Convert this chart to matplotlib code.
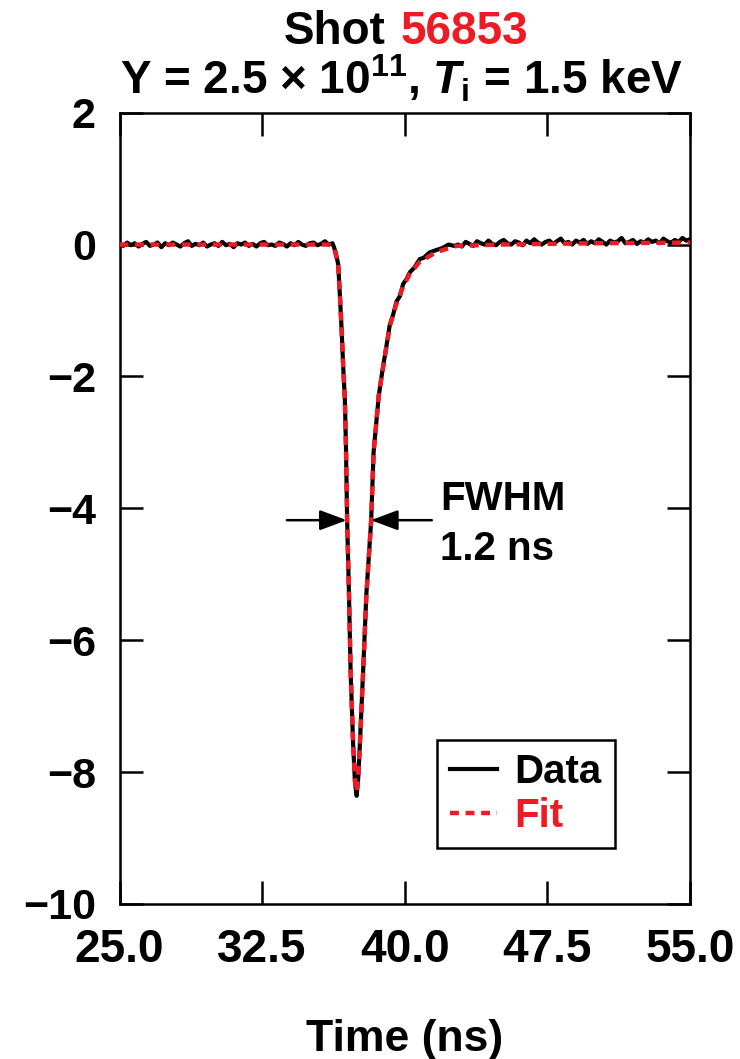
import numpy as np
import matplotlib
matplotlib.use("Agg")
import matplotlib.pyplot as plt

# couleurs
RED = "#ED1C24"

# ligne de base avant le pic (pas 0.2 ns depuis 25.0 ns)
base_left = [0.01, -0.02, 0.03, -0.01, 0.02, -0.03, 0.01, 0.04, -0.02, 0.0,
             0.03, -0.04, 0.02, -0.01, 0.03, 0.0, -0.03, 0.02, 0.05, -0.02,
             0.01, -0.01, 0.03, -0.03, 0.0, 0.02, -0.02, 0.04, -0.01, 0.01,
             -0.04, 0.02, 0.0, 0.03, -0.02, 0.01, -0.03, 0.02, 0.04, -0.01,
             0.0, -0.02, 0.03, 0.01, -0.03, 0.02, -0.01, 0.04, 0.0, -0.02,
             0.02, 0.03, -0.01, 0.01, 0.05, 0.0]
# le pic (donnees)
peak_t = [36.2, 36.35, 36.5, 36.59, 36.68, 36.77, 36.85, 36.91, 36.97, 37.07,
          37.15, 37.28, 37.38, 37.47, 37.55, 37.62, 37.82, 37.98, 38.23, 38.36,
          38.63, 38.83, 39.03, 39.21, 39.4, 39.57, 39.75, 39.91, 40.1, 40.27,
          40.5, 40.79, 41.0, 41.3, 41.69, 42.0, 42.3, 42.6]
peak_y = [0.02, -0.1, -0.3, -0.78, -1.3, -1.9, -2.35, -3.1, -4.2, -5.35,
          -6.45, -7.55, -8.15, -8.36, -8.1, -7.7, -6.4, -5.3, -4.2, -3.15,
          -2.3, -1.9, -1.55, -1.22, -1.05, -0.86, -0.78, -0.6, -0.52, -0.42,
          -0.35, -0.22, -0.2, -0.12, -0.08, -0.05, 0.0, -0.02]
# ligne de base apres le pic (pas 0.2 ns depuis 42.8 ns)
base_right = [0.0, -0.03, 0.04, 0.01, -0.02, 0.05, 0.02, 0.0, 0.06, 0.01,
              -0.01, 0.04, 0.07, 0.02, 0.0, 0.05, 0.03, -0.01, 0.06, 0.02,
              0.08, 0.03, 0.0, 0.04, 0.06, 0.01, 0.05, 0.09, 0.02, 0.04,
              0.0, 0.06, 0.03, 0.07, 0.01, 0.05, 0.02, 0.08, 0.04, 0.0,
              0.06, 0.03, 0.05, 0.1, 0.02, 0.04, 0.07, 0.01, 0.05, 0.03,
              0.08, 0.04, 0.06, 0.02, 0.09, 0.05, 0.03, 0.07, 0.04, 0.1,
              0.06, 0.08]

# courbe d'ajustement
fit_t = [25.0, 36.0, 36.2, 36.35, 36.5, 36.59, 36.68, 36.77, 36.85, 36.91,
         36.97, 37.07, 37.15, 37.28, 37.38, 37.47, 37.55, 37.62, 37.82, 37.98,
         38.23, 38.36, 38.63, 38.83, 39.03, 39.21, 39.57, 39.91, 40.27, 40.79,
         41.69, 42.72, 45.0, 50.0, 55.0]
fit_y = [0.0, 0.0, -0.02, -0.12, -0.32, -0.78, -1.3, -1.9, -2.38, -3.1,
         -4.19, -5.33, -6.43, -7.54, -8.12, -8.3, -8.08, -7.71, -6.43, -5.33,
         -4.19, -3.16, -2.28, -1.92, -1.56, -1.24, -0.89, -0.64, -0.44, -0.26,
         -0.11, -0.02, 0.0, 0.02, 0.03]

xticks = [25.0, 32.5, 40.0, 47.5, 55.0]
yticks = [2, 0, -2, -4, -6, -8, -10]
fwhm_y = -4.18
fwhm_left = 36.95
fwhm_right = 38.22

t_left = 25.0 + 0.2 * np.arange(len(base_left))
t_right = 42.8 + 0.2 * np.arange(len(base_right))
data_t = np.concatenate([t_left, peak_t, t_right])
data_y = np.concatenate([base_left, peak_y, base_right])

plt.rcParams['font.family'] = ['Liberation Sans', 'DejaVu Sans']
plt.rcParams['font.weight'] = 'bold'
plt.rcParams['mathtext.fontset'] = 'custom'
plt.rcParams['mathtext.rm'] = 'Liberation Sans:bold'
plt.rcParams['mathtext.it'] = 'Liberation Sans:bold:italic'
plt.rcParams['mathtext.bf'] = 'Liberation Sans:bold'

fig = plt.figure(figsize=(7.4, 10.59), dpi=100)
ax = fig.add_axes([0.1615, 0.1464, 0.771, 0.7472])

ax.plot(data_t, data_y, color='black', lw=3.0, label='Data', zorder=2)
ax.plot(fit_t, fit_y, color=RED, lw=3.2, dashes=(2.0, 1.5), label='Fit', zorder=3)

ax.set_xlim(25, 55)
ax.set_ylim(-10, 2)
ax.set_xticks(xticks)
ax.set_xticklabels(["%.1f" % v for v in xticks])
ax.set_yticks(yticks)
ax.tick_params(direction='in', length=16.5, width=1.8, top=True, right=True, pad=17)
ax.tick_params(axis='x', labelsize=33)
ax.tick_params(axis='y', labelsize=31)
for s in ax.spines.values():
    s.set_linewidth(1.8)

ax.set_xlabel("Time (ns)", fontsize=32, weight='bold', labelpad=34)

# fleches FWHM
arrow = dict(arrowstyle='-|>,head_length=0.75,head_width=0.28', color='black',
             lw=1.8, mutation_scale=22, shrinkA=0, shrinkB=0)
ax.annotate("", xy=(fwhm_left, fwhm_y), xytext=(33.8, fwhm_y), arrowprops=arrow)
ax.annotate("", xy=(fwhm_right, fwhm_y), xytext=(41.42, fwhm_y), arrowprops=arrow)
ax.text(41.84, -3.86, "FWHM", fontsize=29, weight='bold', va='center', ha='left')
ax.text(41.84, -4.62, "1.2 ns", fontsize=29, weight='bold', va='center', ha='left')

leg = ax.legend(loc='lower left', bbox_to_anchor=(0.557, 0.071), fontsize=29,
                frameon=True, fancybox=False, edgecolor='black', framealpha=1,
                handlelength=1.15, handletextpad=0.45, borderpad=0.32,
                labelspacing=0.15, borderaxespad=0)
leg.get_frame().set_linewidth(1.8)
leg.get_texts()[1].set_color(RED)

# titre
fig.text(0.521, 0.9695, "Shot", fontsize=33, weight='bold', ha='right', va='center')
fig.text(0.541, 0.9695, "56853", fontsize=33, weight='bold', color=RED, ha='left', va='center')
fig.text(0.542, 0.926, r"Y = 2.5 × 10$^{11}$, $T_{\mathrm{i}}$ = 1.5 keV",
         fontsize=33, weight='bold', ha='center', va='center')

fig.savefig("out.png", dpi=100)
